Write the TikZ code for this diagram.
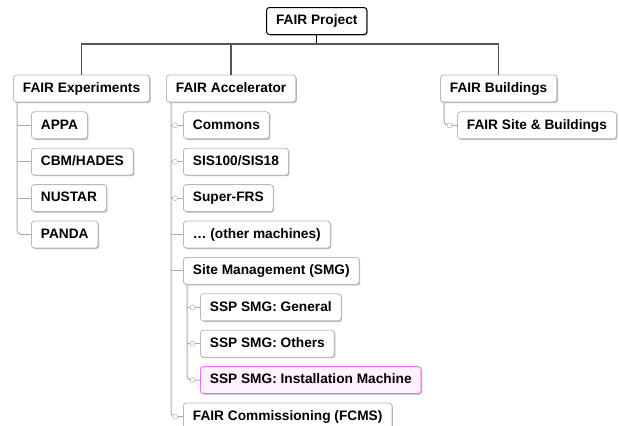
\documentclass[tikz,border=0pt]{standalone}
\usepackage{fontspec}
\setmainfont{Liberation Sans}
\usetikzlibrary{shadows}
\definecolor{busgray}{HTML}{555555}
\definecolor{kidgray}{HTML}{AAAAAA}
\definecolor{boxline}{HTML}{B8B8B8}
\definecolor{pinkline}{HTML}{F070F0}
\definecolor{pinkfill}{HTML}{FFF0FF}
\begin{document}
\begin{tikzpicture}[x=1pt,y=-1pt,
  box/.style={draw=boxline, fill=white, rounded corners=3pt, line width=0.8pt,
    inner xsep=9.5pt, inner ysep=0pt, minimum height=27pt, text height=10pt, text depth=2.5pt,
    anchor=west, font=\fontsize{13.7}{16}\selectfont\bfseries,
    drop shadow={shadow xshift=1pt,shadow yshift=-1pt,fill=black!30,opacity=1}},
  topbox/.style={box, draw=black, line width=1pt},
  pinkbox/.style={box, draw=pinkline, fill=pinkfill},
  bus/.style={draw=busgray, line width=1.3pt},
  kid/.style={draw=kidgray, line width=1pt},
  icon/.style={circle, draw=kidgray!80, fill=white, line width=0.6pt, inner sep=0pt, minimum size=5pt}]
\useasboundingbox (0,0) rectangle (619,426);
% top
\node[topbox] (proj) at (266,21) {FAIR Project};
\coordinate (busY) at (0,44);
% level 1
\node[box] (exp) at (13,88.5) {FAIR Experiments};
\node[box] (acc) at (166,88.5) {FAIR Accelerator};
\node[box] (bld) at (440,88.5) {FAIR Buildings};
% experiments children
\node[box] (appa) at (31,125.3) {APPA};
\node[box] (cbm) at (31,161.7) {CBM/HADES};
\node[box] (nustar) at (31,198.1) {NUSTAR};
\node[box] (panda) at (31,234.5) {PANDA};
% accelerator children
\node[box] (commons) at (183,125.3) {Commons};
\node[box] (sis) at (183,161.7) {SIS100/SIS18};
\node[box] (sfrs) at (183,198.1) {Super-FRS};
\node[box] (other) at (183,234.5) {\dots\ (other machines)};
\node[box] (smg) at (183,270.9) {Site Management (SMG)};
\node[box] (gen) at (200,307.3) {SSP SMG: General};
\node[box] (oth) at (200,343.7) {SSP SMG: Others};
\node[pinkbox] (inst) at (200,380.1) {SSP SMG: Installation Machine};
\node[box] (fcms) at (183,416.5) {FAIR Commissioning (FCMS)};
% buildings child
\node[box] (site) at (457,125.3) {FAIR Site \& Buildings};
% main connectors
\draw[black, line width=1.3pt] (proj.south) -- (proj.south |- busY);
\draw[bus] (exp.north) -- (exp.north |- busY) -| (bld.north);
\draw[bus] (acc.north) -- (acc.north |- busY);
% experiments tree
\coordinate (expv) at ([xshift=4pt]exp.south west);
\draw[kid, rounded corners=4pt] (expv) |- (panda.west);
\draw[kid] (expv |- appa.west) -- (appa.west);
\draw[kid] (expv |- cbm.west) -- (cbm.west);
\draw[kid] (expv |- nustar.west) -- (nustar.west);
% accelerator tree
\coordinate (accv) at ([xshift=5pt]acc.south west);
\draw[kid, rounded corners=4pt] (accv) |- (fcms.west);
\draw[kid] (accv |- commons.west) -- (commons.west);
\draw[kid] (accv |- sis.west) -- (sis.west);
\draw[kid] (accv |- sfrs.west) -- (sfrs.west);
\draw[kid] (accv |- other.west) -- (other.west);
\draw[kid] (accv |- smg.west) -- (smg.west);
\coordinate (smgv) at ([xshift=4pt]smg.south west);
\draw[kid, rounded corners=4pt] (smgv) |- (inst.west);
\draw[kid] (smgv |- gen.west) -- (gen.west);
\draw[kid] (smgv |- oth.west) -- (oth.west);
% buildings tree
\coordinate (bldv) at ([xshift=4pt]bld.south west);
\draw[kid, rounded corners=4pt] (bldv) |- (site.west);
% icons
\node[icon] (i1) at ([xshift=-8pt]commons.west) {};
\node[icon] (i2) at ([xshift=-8pt]sis.west) {};
\node[icon] (i3) at ([xshift=-8pt]sfrs.west) {};
\node[icon] (i4) at ([xshift=-7.5pt]gen.west) {};
\node[icon] (i5) at ([xshift=-7.5pt]oth.west) {};
\node[icon] (i6) at ([xshift=-7.5pt]inst.west) {};
\node[icon] (i7) at ([xshift=-8pt]fcms.west) {};
\node[icon] (i8) at ([xshift=-7.5pt]site.west) {};
\end{tikzpicture}
\end{document}
